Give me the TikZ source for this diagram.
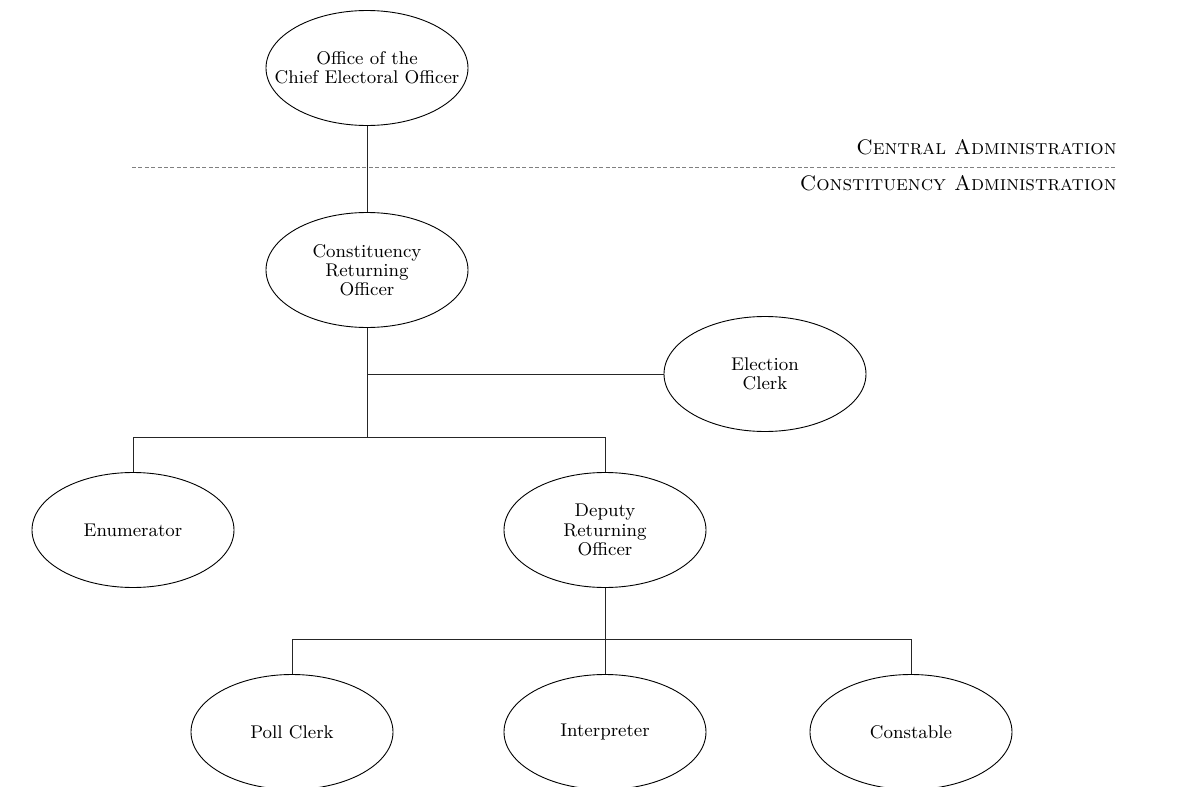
\documentclass[tikz,border=0pt]{standalone}
\usetikzlibrary{shapes.geometric}
\begin{document}
\begin{tikzpicture}[x=0.5pt,y=-0.5pt,
  unit/.style={ellipse,draw,line width=0.45pt,minimum width=101pt,minimum height=57.5pt,
    inner xsep=-12pt,inner ysep=0pt,align=center,font=\fontsize{9.2}{9.6}\selectfont},
  conn/.style={line width=0.5pt,black!85},
  divider/.style={line width=0.5pt,gray,dash pattern=on 2pt off 1.2pt},
  tier/.style={font=\fontsize{10.5}{12}\selectfont\scshape,anchor=base east,inner sep=0pt}]
\useasboundingbox (0,0) rectangle (1180,787);
\clip (0,0) rectangle (1180,787);
\node[unit] (ceo) at (367,68) {Office of the\\Chief Electoral Officer};
\node[unit] (cro) at (367,270) {Constituency\\Returning\\Officer};
\node[unit] (ec) at (765,374) {Election\\Clerk};
\node[unit] (en) at (133,530) {Enumerator};
\node[unit] (dro) at (605,530) {Deputy\\Returning\\Officer};
\node[unit] (pc) at (292,732) {Poll Clerk};
\node[unit] (in) at (605,732) {Interpreter};
\node[unit] (co) at (911,732) {Constable};
\coordinate (dl) at (132,167);
\coordinate (dr) at (1117,167);
\draw[divider] (dl) -- (dr);
\node[tier] (central) at (1117,154) {Central Administration};
\node[tier] (constit) at (1117,190) {Constituency Administration};
\coordinate (b1) at (367,437);
\coordinate (b2) at (605,639);
\draw[conn] (ceo) -- (cro);
\draw[conn] (cro.south) -- (b1);
\draw[conn] (cro.south |- ec.west) -- (ec.west);
\draw[conn] (en.north) -- (en.north |- b1) -- (dro.north |- b1) -- (dro.north);
\draw[conn] (dro.south) -- (b2);
\draw[conn] (pc.north) -- (pc.north |- b2) -- (co.north |- b2) -- (co.north);
\draw[conn] (in.north) -- (b2);
\end{tikzpicture}
\end{document}
